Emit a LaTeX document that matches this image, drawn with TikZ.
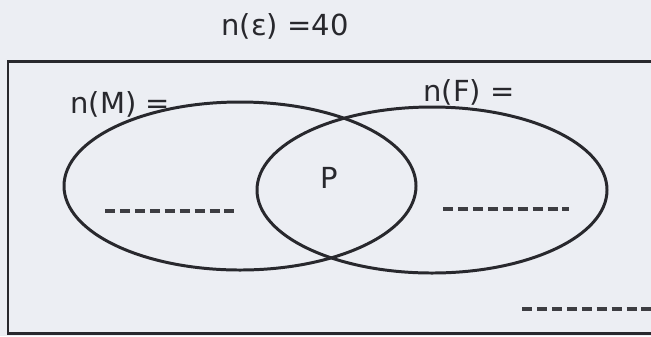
\documentclass[tikz,border=0pt]{standalone}
\usepackage{fontspec}
\setmainfont{DejaVu Sans}
\definecolor{paper}{RGB}{236,238,243}
\definecolor{ink}{RGB}{40,40,45}
\tikzset{
    setline/.style={ink, line width=1.7pt},
    txt/.style={font=\fontsize{16.5}{20}\selectfont, text=ink, inner sep=0pt},
    blank/.style={ink!90, line width=1.8pt, dash pattern=on 5.7pt off 2.8pt}
}
\begin{document}
\begin{tikzpicture}[x=0.02cm, y=-0.02cm]
    % paper
    \fill[paper] (0,0) rectangle (651,336);
    \useasboundingbox (0,0) rectangle (651,336);
    \clip (0,0) rectangle (651,336);

    % universal set
    \node[txt] (nE) at (285,26) {n(ε) =40};
    \draw[setline] (8,61) rectangle (680,333);

    % M (left)
    \draw[setline] (240,186) ellipse [x radius=176, y radius=84];
    \node[txt, anchor=west] (nM) at (70,104) {n(M) =};

    % F (right)
    \draw[setline] (432,190) ellipse [x radius=175, y radius=83];
    \node[txt, anchor=west] (nF) at (423,92) {n(F) =};

    % both
    \node[txt] (P) at (329,178) {P};

    % blanks to fill in
    \draw[blank] (105,211) -- (235,211);
    \draw[blank] (443,209) -- (569,209);
    \draw[blank] (522,309) -- (660,309);
\end{tikzpicture}
\end{document}
